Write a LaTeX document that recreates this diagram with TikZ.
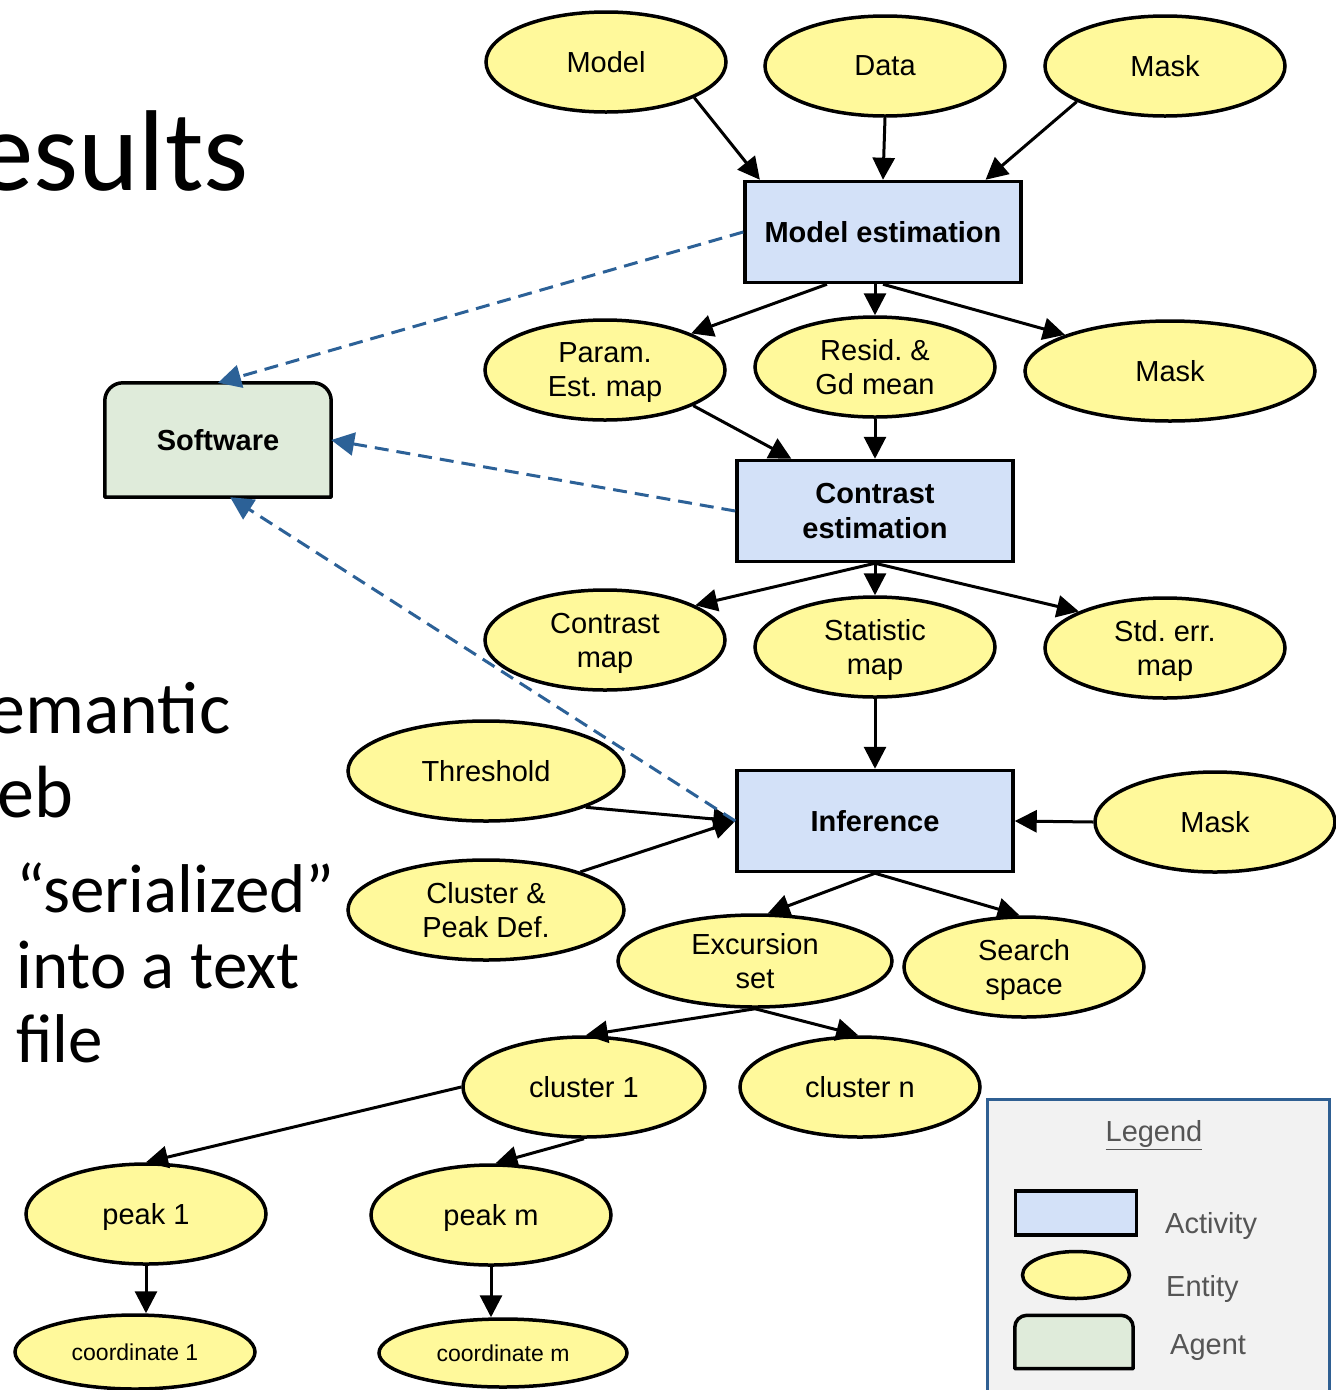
\documentclass[tikz,border=0pt]{standalone}
\usepackage{fontspec}
\setmainfont{Liberation Sans}
\newfontfamily\slidefont{Carlito}
\usetikzlibrary{shapes.geometric,arrows.meta,calc,backgrounds}
\definecolor{entfill}{HTML}{FFF99B}
\definecolor{actfill}{HTML}{D3E1F8}
\definecolor{agfill}{HTML}{DFEBDA}
\definecolor{dashblue}{HTML}{2C6197}
\definecolor{legbg}{HTML}{F2F2F2}
\definecolor{legborder}{HTML}{2F5F92}
\definecolor{leggray}{HTML}{555555}
\frenchspacing
\begin{document}
\begin{tikzpicture}[x=1pt,y=1pt,
  ent/.style={ellipse,draw,line width=3.5pt,fill=entfill,inner sep=0pt,align=center,text depth=0pt,
    minimum width=240pt,minimum height=100pt,font=\fontsize{29}{34}\selectfont},
  act/.style={rectangle,draw,line width=3.5pt,fill=actfill,inner sep=0pt,align=center,
    minimum width=276pt,minimum height=101pt,font=\bfseries\fontsize{29}{35}\selectfont},
  agentnode/.style={rectangle,inner sep=0pt,align=center,font=\bfseries\fontsize{29}{35}\selectfont},
  conn/.style={line width=3pt,-{Triangle[length=22pt,width=22pt]}},
  prov/.style={line width=3pt,dashblue,dash pattern=on 14pt off 8pt,-{Triangle[length=23pt,width=23pt]}},
  slide/.style={anchor=base west,inner sep=0pt},
  legtext/.style={anchor=base west,inner sep=0pt,text=leggray,font=\fontsize{29}{34}\selectfont}]
\useasboundingbox (0,0) rectangle (1336,-1390);

% slide text
\node[slide,font=\slidefont\fontsize{115}{115}\selectfont] (t1) at (-24,-190) {esults};
\node[slide,font=\slidefont\fontsize{74}{74}\selectfont] (t2) at (-12,-733) {emantic};
\node[slide,font=\slidefont\fontsize{74}{74}\selectfont] (t3) at (-3,-817) {eb};
\node[slide,font=\slidefont\fontsize{69}{69}\selectfont] (t4) at (16,-912) {“serialized”};
\node[slide,font=\slidefont\fontsize{69}{69}\selectfont] (t5) at (16,-988) {into a text};
\node[slide,font=\slidefont\fontsize{69}{69}\selectfont] (t6) at (16,-1062) {file};

% entities and activities
\node[ent] (model) at (606,-62) {Model};
\node[ent] (data) at (885,-66) {Data};
\node[ent] (maskA) at (1165,-66) {Mask};
\node[act] (modelest) at (883,-232) {Model estimation};
\node[ent] (param) at (605,-370) {Param.\\Est. map};
\node[ent] (resid) at (875,-367) {Resid. \&\\Gd mean};
\node[ent,minimum width=290pt] (maskB) at (1170,-371) {Mask};
\node[agentnode,minimum width=226pt,minimum height=114pt] (software) at (218,-440) {Software};
\node[act] (contrastest) at (875,-511) {Contrast\\estimation};
\node[ent] (contrastmap) at (605,-640) {Contrast\\map};
\node[ent] (statmap) at (875,-647) {Statistic\\map};
\node[ent] (stderr) at (1165,-648) {Std. err.\\map};
\node[ent,minimum width=276pt] (threshold) at (486,-771) {Threshold};
\node[act] (inference) at (875,-821) {Inference};
\node[ent] (maskC) at (1215,-822) {Mask};
\node[ent,minimum width=276pt] (cluspeak) at (486,-910) {Cluster \&\\Peak Def.};
\node[ent,minimum width=274pt,minimum height=92pt] (excursion) at (755,-961) {Excursion\\set};
\node[ent] (search) at (1024,-967) {Search\\space};
\node[ent,minimum width=242pt] (cluster1) at (584,-1087) {cluster 1};
\node[ent] (clustern) at (860,-1087) {cluster n};
\node[ent] (peak1) at (146,-1214) {peak 1};
\node[ent] (peakm) at (491,-1215) {peak m};
\node[ent,minimum height=74pt,font=\fontsize{23}{28}\selectfont] (coord1) at (135,-1352) {coordinate 1};
\node[ent,minimum width=248pt,minimum height=68pt,font=\fontsize{23}{28}\selectfont] (coordm) at (503,-1353) {coordinate m};

% software agent shape (rounded top corners)
\begin{scope}[on background layer]
\filldraw[fill=agfill,line width=3.5pt,line join=round]
  (software.south west) -- ([yshift=-18pt]software.north west)
  arc[start angle=180,end angle=90,radius=18pt]
  -- ([xshift=-18pt]software.north east)
  arc[start angle=90,end angle=0,radius=18pt]
  -- (software.south east) -- cycle;
\end{scope}

% connectors
\draw[conn] (model.-22) -- (modelest.157);
\draw[conn] (data.south) -- (modelest.north);
\draw[conn] (maskA.202) -- (modelest.27);
\draw[conn] (modelest.223) -- (param.23);
\draw[conn] (resid.north |- modelest.south) -- (resid.north);
\draw[conn] (modelest.south) -- (maskB.161);
\draw[conn] (param.-22) -- (contrastest.148);
\draw[conn] (resid.south) -- (contrastest.north);
\draw[conn] (contrastest.south) -- (contrastmap.21);
\draw[conn] (contrastest.south) -- (statmap.north);
\draw[conn] (contrastest.south) -- (stderr.157);
\draw[conn] (statmap.south) -- (inference.north);
\draw[conn] (threshold.-20) -- (inference.west);
\draw[conn] (cluspeak.22) -- (inference.west);
\draw[conn] (maskC.west) -- (inference.east);
\draw[conn] (inference.south) -- (excursion.75);
\draw[conn] (inference.south) -- (search.95);
\draw[conn] (excursion.south) -- (cluster1.88);
\draw[conn] (excursion.south) -- (clustern.92);
\draw[conn] (cluster1.west) -- (peak1.north);
\draw[conn] (cluster1.south) -- (peakm.85);
\draw[conn] (peak1.south) -- (peak1.south |- coord1.north);
\draw[conn] (peakm.south) -- (peakm.south |- coordm.north);

% provenance (software) links
\draw[prov] (modelest.west) -- (software.north);
\draw[prov] (contrastest.west) -- (software.east);
\draw[prov] (inference.west) -- (software.-78);

% legend
\node[draw=legborder,line width=3pt,fill=legbg,minimum width=342pt,minimum height=320pt,anchor=north west,inner sep=0pt] (legend) at (986,-1098) {};
\node[text=leggray,font=\fontsize{29}{34}\selectfont,inner sep=0pt] (legtitle) at (1154,-1135) {\underline{Legend}};
\node[rectangle,draw,line width=3.5pt,fill=actfill,minimum width=121pt,minimum height=44pt,inner sep=0pt] (legact) at (1076,-1213) {};
\node[ellipse,draw,line width=3.5pt,fill=entfill,minimum width=107pt,minimum height=47pt,inner sep=0pt] (legent) at (1076,-1275) {};
\node[rectangle,minimum width=118pt,minimum height=53pt,inner sep=0pt] (legag) at (1074,-1342) {};
\filldraw[fill=agfill,line width=3.5pt,line join=round]
  (legag.south west) -- ([yshift=-12pt]legag.north west)
  arc[start angle=180,end angle=90,radius=12pt]
  -- ([xshift=-12pt]legag.north east)
  arc[start angle=90,end angle=0,radius=12pt]
  -- (legag.south east) -- cycle;
\node[legtext] (legacttext) at (1165,-1233) {Activity};
\node[legtext] (legenttext) at (1166,-1296) {Entity};
\node[legtext] (legagtext) at (1170,-1354) {Agent};
\end{tikzpicture}
\end{document}
